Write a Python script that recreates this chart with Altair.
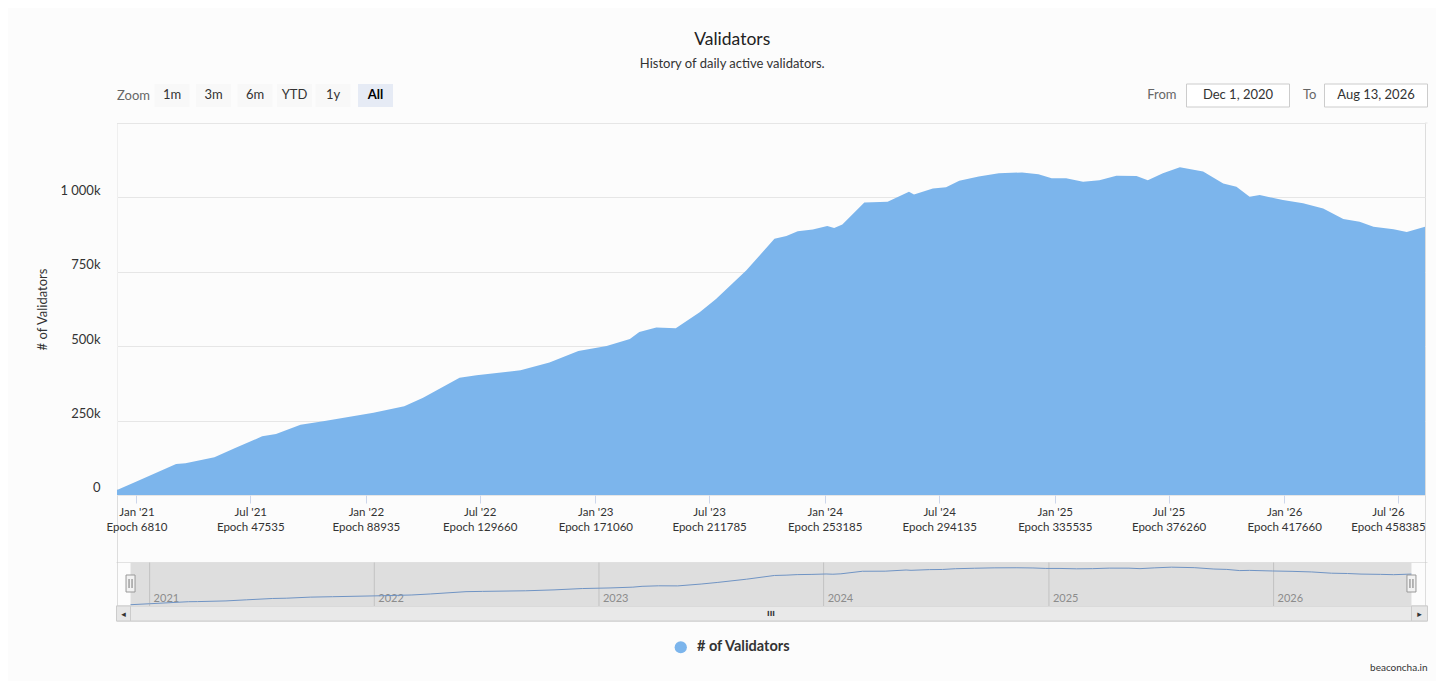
import json
import altair as alt
import pandas as pd

# ---------------- data ----------------
dates = [
    "2020-12-01", "2021-01-01", "2021-03-05", "2021-03-20", "2021-05-05", "2021-06-07",
    "2021-07-20", "2021-08-11", "2021-09-19", "2021-10-25", "2022-01-13", "2022-03-03",
    "2022-04-02", "2022-05-30", "2022-06-26", "2022-09-04", "2022-10-20", "2022-12-05",
    "2023-01-19", "2023-02-25", "2023-03-12", "2023-04-08", "2023-05-09", "2023-06-16",
    "2023-07-12", "2023-08-29", "2023-10-13", "2023-11-01", "2023-11-19", "2023-12-13",
    "2024-01-05", "2024-01-16", "2024-01-29", "2024-03-04", "2024-04-10", "2024-05-14",
    "2024-05-22", "2024-06-21", "2024-07-12", "2024-08-02", "2024-09-02", "2024-10-04",
    "2024-11-10", "2024-12-06", "2024-12-27", "2025-01-19", "2025-02-15", "2025-03-13",
    "2025-04-09", "2025-05-11", "2025-05-29", "2025-06-22", "2025-07-19", "2025-08-25",
    "2025-09-26", "2025-10-17", "2025-11-07", "2025-11-23", "2025-12-30", "2026-01-31",
    "2026-03-04", "2026-04-05", "2026-05-01", "2026-05-23", "2026-06-24", "2026-07-15",
    "2026-08-13",
]
validators_k = [
    17, 45, 104, 107, 127, 158,
    197, 205, 236, 248, 276, 298,
    327, 394, 402, 419, 445, 484,
    501, 524, 548, 563, 560, 614,
    659, 754, 861, 870, 886, 892,
    904, 897, 909, 983, 985, 1019,
    1010, 1030, 1034, 1056, 1070, 1081,
    1084, 1078, 1064, 1064, 1053, 1058,
    1073, 1072, 1058, 1081, 1101, 1087,
    1047, 1036, 1002, 1008, 991, 980,
    963, 927, 918, 901, 893, 884,
    901,
]
assert len(dates) == len(validators_k)

series_name = "# of Validators"
tick_keys = ["2021-01", "2021-07", "2022-01", "2022-07", "2023-01", "2023-07",
             "2024-01", "2024-07", "2025-01", "2025-07", "2026-01", "2026-07"]
tick_epochs = ["6810", "47535", "88935", "129660", "171060", "211785",
               "253185", "294135", "335535", "376260", "417660", "458385"]
y_ticks = [0, 250000, 500000, 750000, 1000000, 1250000]
nav_years = ["2021-01-01", "2022-01-01", "2023-01-01", "2024-01-01", "2025-01-01", "2026-01-01"]
nav_year_labels = ["2021", "2022", "2023", "2024", "2025", "2026"]
zoom_buttons = ["1m", "3m", "6m", "YTD", "1y", "All"]
selected_button = "All"
from_date = "Dec 1, 2020"
to_date = "Aug 13, 2026"
nav_domain = ["2020-11-09", "2026-09-04"]

# ---------------- helpers ----------------
FONT = "Lato"
W, H = 1308, 483


def dt(s):
    y, m, d = (int(p) for p in s.split("-"))
    return alt.DateTime(year=y, month=m, date=d, utc=True)


one = pd.DataFrame({"k": [0]})


def ui_text(txt, x, y, **kw):
    kw.setdefault("font", FONT)
    kw.setdefault("baseline", "middle")
    return alt.Chart(one).mark_text(text=txt, **kw).encode(x=alt.value(x), y=alt.value(y))


def ui_rect(x, x2, y, y2, **kw):
    return alt.Chart(one).mark_rect(**kw).encode(
        x=alt.value(x), x2=alt.value(x2), y=alt.value(y), y2=alt.value(y2))


df = pd.DataFrame({
    "date": dates,
    "validators": [v * 1000 for v in validators_k],
    "series": series_name,
})

# ---------------- main chart ----------------
x_label_expr = (
    "[utcFormat(datum.value, \"%b '%y\"), 'Epoch ' + " + json.dumps(tick_epochs)
    + "[indexof(" + json.dumps(tick_keys) + ", utcFormat(datum.value, '%Y-%m'))]]"
)
y_label_expr = (
    "datum.value > 1100000 ? '' : (datum.value == 0 ? '0' : "
    "replace(format(datum.value / 1000, ','), ',', ' ') + 'k')"
)
last_tick_test = "utcFormat(datum.value, '%Y-%m') == '" + tick_keys[-1] + "'"

area = alt.Chart(df).mark_area(interpolate="linear", opacity=1, strokeWidth=0).encode(
    x=alt.X(
        "date:T",
        scale=alt.Scale(type="utc", domain=[dt(dates[0]), dt(dates[-1])], nice=False),
        axis=alt.Axis(
            values=[dt(k + "-01") for k in tick_keys],
            labelExpr=x_label_expr,
            offset=-111,
            domain=False,
            grid=False,
            ticks=True,
            tickColor="#ccd6eb",
            tickSize=8,
            labelPadding=3,
            labelFont=FONT,
            labelFontSize=11.5,
            labelColor="#333333",
            labelLineHeight=15,
            labelAngle=0,
            labelOverlap=False,
            labelFlush=False,
            labelOffset={"condition": {"test": last_tick_test, "value": -10}, "value": 0},
        ),
        title=None,
    ),
    y=alt.Y(
        "validators:Q",
        scale=alt.Scale(domain=[-373000, 1250000], nice=False, zero=False),
        axis=alt.Axis(
            values=y_ticks,
            labelExpr=y_label_expr,
            grid=True,
            gridColor="#e6e6e6",
            domain=False,
            ticks=False,
            labelPadding=17,
            labelOffset=-7,
            labelFont=FONT,
            labelFontSize=13,
            labelColor="#333333",
            titleX=-74.5,
            titleY=186,
            titleAngle=270,
            titleAlign="center",
            titleBaseline="middle",
            titleFont=FONT,
            titleFontSize=13,
            titleFontWeight="normal",
            titleColor="#333333",
        ),
        title="# of Validators",
    ),
    y2=alt.datum(0),
    color=alt.Color(
        "series:N",
        scale=alt.Scale(range=["#7cb5ec"]),
        legend=alt.Legend(
            title=None, orient="none", legendX=556.5, legendY=517, direction="horizontal",
            symbolType="circle", symbolSize=150, symbolStrokeWidth=0, labelFont=FONT,
            labelFontSize=14.5, labelFontWeight="bold", labelColor="#333333", labelOffset=9,
        ),
    ),
)

# range selector buttons
button_centers = [55, 96.5, 138, 177.5, 216, 258.5]
ui_layers = [ui_text("Zoom", 0, -27, align="left", fontSize=13, color="#666666")]
for lbl, cx in zip(zoom_buttons, button_centers):
    sel = lbl == selected_button
    ui_layers.append(ui_rect(cx - 17.5, cx + 17.5, -39, -16,
                             color="#e6ebf5" if sel else "#f8f8f8"))
    ui_layers.append(ui_text(lbl, cx, -28, align="center", fontSize=13,
                             color="#000000" if sel else "#333333",
                             fontWeight="bold" if sel else "normal"))

# date inputs
ui_layers += [
    ui_text("From", 1059.5, -28, align="right", fontSize=13, color="#666666"),
    ui_rect(1069.5, 1172.5, -39, -16, fill="#ffffff", stroke="#cccccc", strokeWidth=1),
    ui_text(from_date, 1121, -28, align="center", fontSize=13, color="#333333"),
    ui_text("To", 1199.5, -28, align="right", fontSize=13, color="#666666"),
    ui_rect(1207.5, 1310.5, -39, -16, fill="#ffffff", stroke="#cccccc", strokeWidth=1),
    ui_text(to_date, 1259, -28, align="center", fontSize=13, color="#333333"),
]

# scrollbar, navigator top border, credit
ui_layers += [
    ui_rect(-0.5, 1310.5, 483, 498, fill="#f2f2f2", stroke="#cccccc", strokeWidth=1),
    ui_rect(13.5, 1294.5, 483, 498, fill="#e9e9e9", stroke="#cccccc", strokeWidth=1),
    ui_rect(-0.5, 13.5, 483, 498, fill="#e6e6e6", stroke="#cccccc", strokeWidth=1),
    ui_rect(1294.5, 1310.5, 483, 498, fill="#e6e6e6", stroke="#cccccc", strokeWidth=1),
    ui_text("\u25c2", 6.5, 490.5, align="center", fontSize=9, color="#333333", font="DejaVu Sans"),
    ui_text("\u25b8", 1302.5, 490.5, align="center", fontSize=9, color="#333333", font="DejaVu Sans"),
    ui_text("III", 654, 490.5, align="center", fontSize=7, color="#333333",
            fontWeight="bold", font="DejaVu Sans"),
    ui_text("beaconcha.in", 1310.5, 545, align="right", fontSize=10, color="#333333"),
    ui_rect(-0.5, 1310.5, 439, 439.5, color="#c8c8c8"),
    ui_rect(1308, 1310.5, -0.5, 0.5, color="#e6e6e6"),
]

main_group = alt.layer(area, *ui_layers)

# ---------------- navigator ----------------
nav_scale = alt.Scale(type="utc", domain=[dt(nav_domain[0]), dt(nav_domain[1])], nice=False)

nav_region = alt.Chart(pd.DataFrame({"s": [dates[0]], "e": [dates[-1]]})).mark_rect(
    color="#dedede").encode(
    x=alt.X("s:T", scale=nav_scale, axis=None), x2="e:T",
    y=alt.value(439.5), y2=alt.value(483),
)
year_df = pd.DataFrame({"yr": nav_years, "lbl": nav_year_labels})
nav_grid = alt.Chart(year_df).mark_rule(color="#c2c2c2", strokeWidth=1).encode(
    x=alt.X("yr:T", scale=nav_scale, axis=None), y=alt.value(439.5), y2=alt.value(483),
)
nav_text = alt.Chart(year_df).mark_text(
    align="left", baseline="alphabetic", dx=4, font=FONT, fontSize=11, color="#8c8c8c").encode(
    x=alt.X("yr:T", scale=nav_scale, axis=None), y=alt.value(478.7), text="lbl:N",
)
nav_line = alt.Chart(df).mark_line(color="#7094c4", strokeWidth=1).encode(
    x=alt.X("date:T", scale=nav_scale, axis=None),
    y=alt.Y("validators:Q", scale=alt.Scale(domain=[-20000, 13921000], nice=False, zero=False),
            axis=None),
)
handle_df = pd.DataFrame({"h": [dates[0], dates[-1]]})
nav_handles = alt.Chart(handle_df).mark_rect(
    fill="#f2f2f2", stroke="#999999", strokeWidth=1, xOffset=-4.5, x2Offset=4.5).encode(
    x=alt.X("h:T", scale=nav_scale, axis=None), x2="h:T",
    y=alt.value(452), y2=alt.value(469),
)
nav_grip_a = alt.Chart(handle_df).mark_rule(color="#777777", xOffset=-1.5).encode(
    x=alt.X("h:T", scale=nav_scale, axis=None), y=alt.value(456), y2=alt.value(465))
nav_grip_b = alt.Chart(handle_df).mark_rule(color="#777777", xOffset=1.5).encode(
    x=alt.X("h:T", scale=nav_scale, axis=None), y=alt.value(456), y2=alt.value(465))
# background-coloured strip hiding a stray frame edge at the left of the plot
edge_cover = ui_rect(-2, 0.6, 1, 366, color="#fcfcfc")

nav_group = alt.layer(nav_region, nav_grid, nav_text, nav_line, nav_handles,
                      nav_grip_a, nav_grip_b, edge_cover)

chart = alt.layer(main_group, nav_group).resolve_scale(
    x="independent", y="independent"
).properties(
    width=W, height=H,
    padding={"left": 28, "top": 23, "right": 8, "bottom": 8},
    background="#fcfcfc",
    title=alt.Title(
        "Validators", subtitle="History of daily active validators.", anchor="middle",
        frame="bounds", font=FONT, fontSize=17.5, fontWeight="normal", color="#222222",
        subtitleFont=FONT, subtitleFontSize=13, subtitleColor="#333333",
        subtitlePadding=9, offset=13,
    ),
).configure_view(strokeWidth=0).configure(font=FONT)

chart.save("out.html", embed_options={"renderer": "svg", "actions": False})
